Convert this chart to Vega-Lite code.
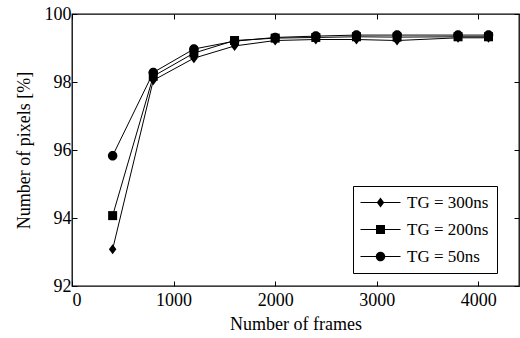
{
  "$schema": "https://vega.github.io/schema/vega-lite/v6.json",
  "width": 447,
  "height": 272,
  "autosize": {"type": "none"},
  "padding": {"left": 72, "top": 14, "right": 1, "bottom": 52},
  "background": "white",
  "config": {
    "font": "Liberation Serif, Times New Roman, Times, serif",
    "view": {"stroke": "black", "strokeWidth": 1.3},
    "axis": {
      "grid": false,
      "domain": false,
      "tickColor": "black",
      "tickSize": -5,
      "tickWidth": 1,
      "labelColor": "black",
      "titleColor": "black",
      "labelFont": "Liberation Serif, Times New Roman, Times, serif",
      "titleFont": "Liberation Serif, Times New Roman, Times, serif",
      "labelFontSize": 18,
      "titleFontSize": 18,
      "titleFontWeight": "normal"
    }
  },
  "data": {
    "values": [
      {"frames": 400, "tg": "TG = 50ns", "pct": 95.83},
      {"frames": 800, "tg": "TG = 50ns", "pct": 98.28},
      {"frames": 1200, "tg": "TG = 50ns", "pct": 98.97},
      {"frames": 1600, "tg": "TG = 50ns", "pct": 99.2},
      {"frames": 2000, "tg": "TG = 50ns", "pct": 99.31},
      {"frames": 2400, "tg": "TG = 50ns", "pct": 99.35},
      {"frames": 2800, "tg": "TG = 50ns", "pct": 99.38},
      {"frames": 3200, "tg": "TG = 50ns", "pct": 99.38},
      {"frames": 3800, "tg": "TG = 50ns", "pct": 99.38},
      {"frames": 4100, "tg": "TG = 50ns", "pct": 99.38},
      {"frames": 400, "tg": "TG = 200ns", "pct": 94.07},
      {"frames": 800, "tg": "TG = 200ns", "pct": 98.17},
      {"frames": 1200, "tg": "TG = 200ns", "pct": 98.85},
      {"frames": 1600, "tg": "TG = 200ns", "pct": 99.22},
      {"frames": 2000, "tg": "TG = 200ns", "pct": 99.29},
      {"frames": 2400, "tg": "TG = 200ns", "pct": 99.31},
      {"frames": 2800, "tg": "TG = 200ns", "pct": 99.33},
      {"frames": 3200, "tg": "TG = 200ns", "pct": 99.32},
      {"frames": 3800, "tg": "TG = 200ns", "pct": 99.33},
      {"frames": 4100, "tg": "TG = 200ns", "pct": 99.33},
      {"frames": 400, "tg": "TG = 300ns", "pct": 93.08},
      {"frames": 800, "tg": "TG = 300ns", "pct": 98.05},
      {"frames": 1200, "tg": "TG = 300ns", "pct": 98.7},
      {"frames": 1600, "tg": "TG = 300ns", "pct": 99.06},
      {"frames": 2000, "tg": "TG = 300ns", "pct": 99.22},
      {"frames": 2400, "tg": "TG = 300ns", "pct": 99.25},
      {"frames": 2800, "tg": "TG = 300ns", "pct": 99.25},
      {"frames": 3200, "tg": "TG = 300ns", "pct": 99.22},
      {"frames": 3800, "tg": "TG = 300ns", "pct": 99.3},
      {"frames": 4100, "tg": "TG = 300ns", "pct": 99.3}
    ]
  },
  "resolve": {"scale": {"shape": "independent"}},
  "layer": [
    {
      "mark": {"type": "line", "color": "black", "strokeWidth": 1},
      "encoding": {
        "x": {
          "field": "frames",
          "type": "quantitative",
          "scale": {"domain": [0, 4400], "nice": false, "zero": false},
          "axis": {"orient": "bottom", "values": [0, 1000, 2000, 3000, 4000], "format": "d", "title": "Number of frames", "labelPadding": 10, "titlePadding": 6}
        },
        "y": {
          "field": "pct",
          "type": "quantitative",
          "scale": {"domain": [92, 100], "nice": false, "zero": false},
          "axis": {"orient": "left", "values": [92, 94, 96, 98, 100], "title": "Number of pixels [%]", "labelPadding": 6, "titlePadding": 11}
        },
        "detail": {"field": "tg", "type": "nominal"}
      }
    },
    {
      "mark": {"type": "point", "filled": true, "color": "black", "opacity": 1, "size": 100},
      "encoding": {
        "x": {
          "field": "frames",
          "type": "quantitative",
          "axis": {"orient": "top", "values": [0, 1000, 2000, 3000, 4000], "labels": false, "title": null}
        },
        "y": {
          "field": "pct",
          "type": "quantitative",
          "axis": {"orient": "right", "values": [92, 94, 96, 98, 100], "labels": false, "title": null}
        },
        "shape": {
          "field": "tg",
          "type": "nominal",
          "scale": {
            "domain": ["TG = 300ns", "TG = 200ns", "TG = 50ns"],
            "range": ["M0,-1L0.75,0L0,1L-0.75,0Z", "M-0.9,-0.9H0.9V0.9H-0.9Z", "M-0.95,0A0.95,0.95,0,1,1,0.95,0A0.95,0.95,0,1,1,-0.95,0Z"]
          },
          "legend": null
        }
      }
    },
    {
      "transform": [{"filter": "datum.frames < 0"}],
      "mark": {"type": "point", "filled": true, "color": "black", "opacity": 1, "size": 100},
      "encoding": {
        "shape": {
          "field": "tg",
          "type": "nominal",
          "scale": {
            "domain": ["TG = 300ns", "TG = 200ns", "TG = 50ns"],
            "range": [
              "M-4,-0.1H4V0.1H-4ZM0,-1L0.75,0L0,1L-0.75,0Z",
              "M-4,-0.1H4V0.1H-4ZM-0.9,-0.9H0.9V0.9H-0.9Z",
              "M-4,-0.1H4V0.1H-4ZM-0.95,0A0.95,0.95,0,1,1,0.95,0A0.95,0.95,0,1,1,-0.95,0Z"
            ]
          },
          "legend": {
            "orient": "none",
            "legendX": 281,
            "legendY": 172,
            "title": null,
            "strokeColor": "black",
            "fillColor": "white",
            "padding": 8,
            "labelFont": "Liberation Serif, Times New Roman, Times, serif",
            "labelFontSize": 17,
            "labelColor": "black",
            "symbolSize": 100,
            "symbolStrokeWidth": 0,
            "symbolFillColor": "black",
            "symbolOpacity": 1,
            "symbolOffset": 11,
            "labelOffset": 18,
            "rowPadding": 9
          }
        }
      }
    }
  ]
}
